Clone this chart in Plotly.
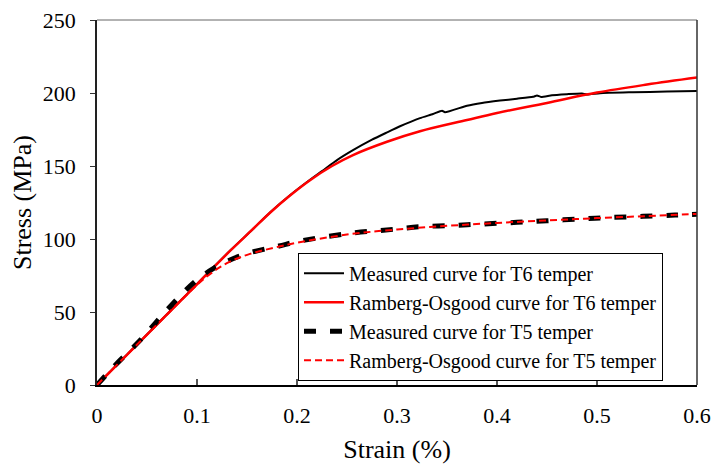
import plotly.graph_objects as go

# T6 measured
t6m_strain = [0, 0.02, 0.05, 0.08, 0.10, 0.133, 0.155, 0.173, 0.193, 0.213, 0.225, 0.24, 0.256, 0.275,
              0.29, 0.303, 0.323, 0.336, 0.345, 0.348, 0.37, 0.385, 0.403, 0.42, 0.436, 0.44, 0.444,
              0.455, 0.47, 0.485, 0.49, 0.503, 0.536, 0.57, 0.60]
t6m_stress = [0, 13.9, 34.6, 55.3, 69.2, 92, 106.2, 118.2, 130, 140.6, 146.5, 154, 160.8, 168,
              173, 177.2, 182.8, 185.6, 187.9, 186.8, 191.3, 193.2, 194.8, 196.1, 197.4, 198.3, 197.3,
              198.5, 199.2, 199.7, 199.0, 199.9, 200.5, 201, 201.4]

# T6 Ramberg-Osgood
t6r_strain = [0, 0.05, 0.10, 0.133, 0.155, 0.173, 0.193, 0.213, 0.235, 0.256, 0.29, 0.323, 0.37,
              0.40, 0.45, 0.50, 0.55, 0.60]
t6r_stress = [0, 34.5, 69, 91.8, 106.2, 118, 129.8, 140.3, 150, 157.5, 166.6, 173.8, 181.5,
              186.3, 193.2, 200.3, 205.8, 210.6]

# T5 measured
t5m_strain = [0, 0.0167, 0.045, 0.07, 0.098, 0.117, 0.133, 0.153, 0.182, 0.2, 0.253, 0.296, 0.323,
              0.356, 0.386, 0.42, 0.45, 0.483, 0.513, 0.546, 0.578, 0.60]
t5m_stress = [0, 12.5, 32, 51.4, 70.8, 80, 85.6, 90.6, 95.2, 98.2, 103.9, 106.6, 108.4,
              109.3, 110.3, 111.4, 112.5, 113.7, 114.7, 115.5, 116.4, 117]

# T5 Ramberg-Osgood
t5r_strain = [0, 0.05, 0.10, 0.115, 0.133, 0.153, 0.182, 0.2, 0.253, 0.30, 0.35, 0.40, 0.45, 0.50, 0.55, 0.60]
t5r_stress = [0, 34.5, 68.5, 77, 84.5, 89.8, 94.8, 97.5, 103.3, 106.5, 109, 111, 112.7, 114.3, 115.7, 117.2]

series_names = ["Measured curve for T6 temper", "Ramberg-Osgood curve for T6 temper",
                "Measured curve for T5 temper", "Ramberg-Osgood curve for T5 temper"]

FONT = "Liberation Serif"

fig = go.Figure()
fig.add_trace(go.Scatter(x=t6m_strain, y=t6m_stress, mode="lines", name=series_names[0],
                         line=dict(color="black", width=2, shape="spline", smoothing=0.5)))
fig.add_trace(go.Scatter(x=t6r_strain, y=t6r_stress, mode="lines", name=series_names[1],
                         line=dict(color="#ff0000", width=2.5, shape="spline")))
fig.add_trace(go.Scatter(x=t5m_strain, y=t5m_stress, mode="lines", name=series_names[2],
                         line=dict(color="black", width=5, dash="12px,14px", shape="spline")))
fig.add_trace(go.Scatter(x=t5r_strain, y=t5r_stress, mode="lines", name=series_names[3],
                         line=dict(color="#ff0000", width=2, dash="7px,4px", shape="spline")))

fig.update_layout(
    width=716, height=465,
    margin=dict(l=97, r=19, t=20, b=80, autoexpand=False),
    paper_bgcolor="white", plot_bgcolor="white",
    font=dict(family=FONT, size=22, color="black"),
    showlegend=True,
    legend=dict(x=0.335, y=0.362, xanchor="left", yanchor="top",
                bgcolor="white", bordercolor="black", borderwidth=1,
                font=dict(family=FONT, size=20, color="black"),
                tracegroupgap=0, itemwidth=40),
    xaxis=dict(range=[0, 0.6], tickvals=[0, 0.1, 0.2, 0.3, 0.4, 0.5, 0.6],
               ticktext=["0", "0.1", "0.2", "0.3", "0.4", "0.5", "0.6"],
               ticks="inside", ticklen=6, tickcolor="#555", tickwidth=1.5, automargin=False,
               ticklabelstandoff=10,
               showline=True, linecolor="black", linewidth=2, showgrid=False, zeroline=False,
               title=dict(text="Strain (%)", standoff=12)),
    yaxis=dict(range=[0, 250], tickvals=[0, 50, 100, 150, 200, 250], automargin=False,
               ticks="outside", ticklen=5, tickcolor="#333", tickwidth=1,
               ticklabelstandoff=10,
               showline=True, linecolor="#222", linewidth=1.5, showgrid=False, zeroline=False,
               title=dict(text="Stress (MPa)", standoff=4)),
    shapes=[
        dict(type="line", xref="paper", yref="paper", x0=0, x1=1, y0=1, y1=1,
             line=dict(color="#666", width=1)),
        dict(type="line", xref="paper", yref="paper", x0=1, x1=1, y0=0, y1=1,
             line=dict(color="#333", width=1.5)),
    ],
)

fig.write_html("out.html")
